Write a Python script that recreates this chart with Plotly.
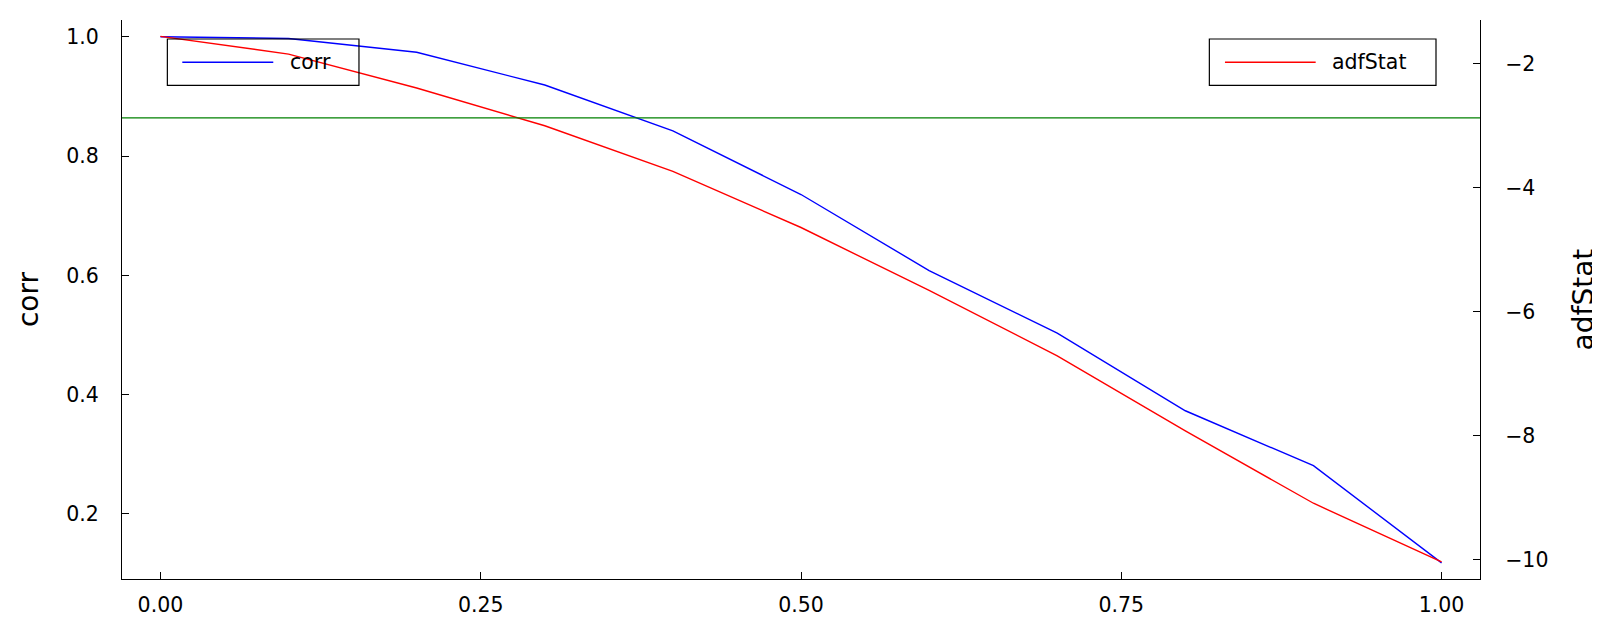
import plotly.graph_objects as go

# ---- data ----
x_vals = [0.0, 0.1, 0.2, 0.3, 0.4, 0.5, 0.6, 0.7, 0.8, 0.9, 1.0]
corr = [1.0, 0.997, 0.974, 0.919, 0.842, 0.7355, 0.608, 0.503, 0.373, 0.281, 0.118]
adf_stat = [-1.554, -1.84, -2.388, -2.997, -3.735, -4.64, -5.657, -6.712, -7.924, -9.092, -10.04]
critical_value = -2.87

x_ticks = [0.0, 0.25, 0.5, 0.75, 1.0]
x_tick_text = ["0.00", "0.25", "0.50", "0.75", "1.00"]
corr_ticks = [0.2, 0.4, 0.6, 0.8, 1.0]
corr_tick_text = ["0.2", "0.4", "0.6", "0.8", "1.0"]
adf_ticks = [-10, -8, -6, -4, -2]
adf_tick_text = ["\u221210", "\u22128", "\u22126", "\u22124", "\u22122"]

FONT = "DejaVu Sans"
TICK_SIZE = 20.5
TITLE_SIZE = 28
LW = 1.4

fig = go.Figure()
fig.add_trace(go.Scatter(x=x_vals, y=corr, mode="lines", name="corr",
                         line=dict(color="rgb(0,0,255)", width=LW),
                         yaxis="y", showlegend=False))
fig.add_trace(go.Scatter(x=x_vals, y=adf_stat, mode="lines", name="adfStat",
                         line=dict(color="rgb(255,0,0)", width=LW),
                         yaxis="y2", showlegend=False))

# critical value horizontal line on the right axis
fig.add_shape(type="line", xref="paper", yref="y2", x0=0, x1=1,
              y0=critical_value, y1=critical_value,
              line=dict(color="rgb(0,128,0)", width=LW), layer="above")

# manual legends (Plots.jl style boxes)
legends = [
    dict(name="corr", color="rgb(0,0,255)", bx0=0.0334, bx1=0.1745, lx0=0.0444, lx1=0.1114, tx=0.122),
    dict(name="adfStat", color="rgb(255,0,0)", bx0=0.8007, bx1=0.9676, lx0=0.8122, lx1=0.879, tx=0.8895),
]
box_top, box_bot, item_y = 0.966, 0.8832, 0.9243
for lg in legends:
    fig.add_shape(type="rect", xref="paper", yref="paper",
                  x0=lg["bx0"], x1=lg["bx1"], y0=box_bot, y1=box_top,
                  line=dict(color="black", width=1.2), fillcolor="rgba(0,0,0,0)", layer="above")
    fig.add_shape(type="line", xref="paper", yref="paper",
                  x0=lg["lx0"], x1=lg["lx1"], y0=item_y, y1=item_y,
                  line=dict(color=lg["color"], width=LW), layer="above")
    fig.add_annotation(xref="paper", yref="paper", x=lg["tx"], y=item_y,
                       xanchor="left", yanchor="middle", showarrow=False,
                       text=lg["name"], font=dict(family=FONT, size=TICK_SIZE, color="black"))

# axis titles
fig.add_annotation(xref="paper", yref="paper", x=-0.0688, y=0.5, textangle=-90,
                   xanchor="center", yanchor="middle", showarrow=False, text="corr",
                   font=dict(family=FONT, size=TITLE_SIZE, color="black"))
fig.add_annotation(xref="paper", yref="paper", x=1.0765, y=0.5, textangle=-90,
                   xanchor="center", yanchor="middle", showarrow=False, text="adfStat",
                   borderpad=0,
                   font=dict(family=FONT, size=TITLE_SIZE, color="black"))

axis_common = dict(showgrid=False, zeroline=False, showline=True, linecolor="black",
                   linewidth=1.2, ticks="inside", ticklen=7, tickwidth=1.2, tickcolor="black",
                   automargin=False,
                   tickfont=dict(family=FONT, size=TICK_SIZE, color="black"))

# the page body has an 8px margin, so the figure is 8px smaller and margins shifted
fig.update_layout(
    width=1592, height=614,
    margin=dict(l=114, r=120, t=12, b=43, pad=0, autoexpand=False),
    paper_bgcolor="white", plot_bgcolor="white",
    font=dict(family=FONT, color="black"),
    xaxis=dict(range=[-0.03, 1.03], tickvals=x_ticks, ticktext=x_tick_text,
               ticklabelstandoff=7, **axis_common),
    yaxis=dict(range=[0.091, 1.028], tickvals=corr_ticks, ticktext=corr_tick_text,
               ticklabelstandoff=18, **axis_common),
    yaxis2=dict(range=[-10.315, -1.29], tickvals=adf_ticks, ticktext=adf_tick_text,
                overlaying="y", side="right", ticklabelstandoff=20, **axis_common),
    showlegend=False,
)

fig.write_html("out.html")
